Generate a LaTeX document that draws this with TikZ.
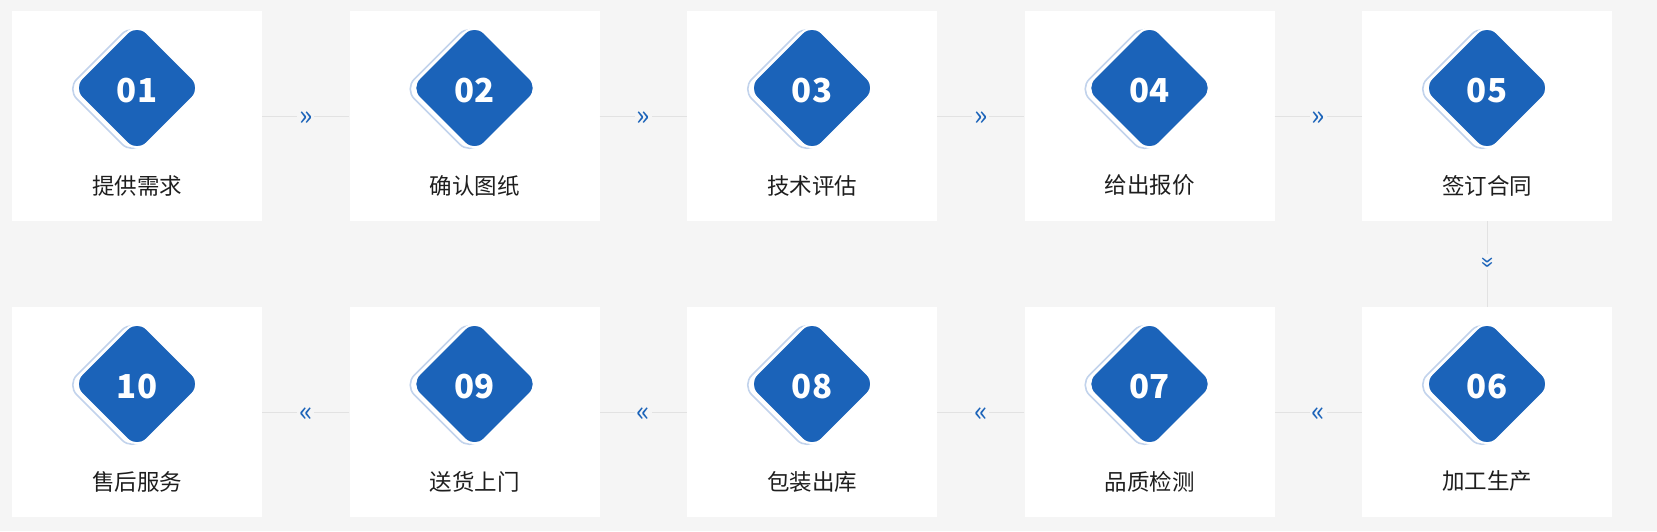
\documentclass[tikz,border=0pt]{standalone}
\usepackage{fontspec}
\setmainfont{Noto Sans CJK SC}
\definecolor{bg}{HTML}{F5F5F5}
\definecolor{mainblue}{HTML}{1B63B9}
\definecolor{lightblue}{HTML}{C2D3EC}
\definecolor{linegray}{HTML}{E2E2E2}
\definecolor{lbltext}{HTML}{1E1E1E}
\tikzset{
 card/.style={fill=white, minimum width=250pt, minimum height=210pt, inner sep=0pt},
 dia/.style={fill=mainblue, draw=white, line width=2pt, rounded corners=14pt, minimum size=92pt, rotate=45, inner sep=0pt},
 diaout/.style={draw=lightblue, line width=1.6pt, fill=white, rounded corners=14pt, minimum size=92pt, rotate=45, inner sep=0pt},
 num/.style={text=white, font=\bfseries\fontsize{33}{33}\selectfont, inner sep=0pt},
 lbl/.style={text=lbltext, font=\fontsize{22.5}{22.5}\selectfont, inner sep=0pt},
 conn/.style={draw=linegray, line width=1pt},
 chev/.style={fill=bg, text=mainblue, font=\fontsize{28}{28}\selectfont, inner sep=2pt},
}
\begin{document}
\begin{tikzpicture}[x=1pt,y=-1pt]
\fill[bg] (0,0) rectangle (1657,531);
\useasboundingbox (0,0) rectangle (1657,531);
\foreach \i/\x/\y/\n/\t in {
  1/137/116/01/提供需求, 2/474.5/116/02/确认图纸, 3/812/116/03/技术评估, 4/1149.5/116/04/给出报价, 5/1487/116/05/签订合同,
  6/1487/412/06/加工生产, 7/1149.5/412/07/品质检测, 8/812/412/08/包装出库, 9/474.5/412/09/送货上门, 10/137/412/10/售后服务}{
  \node[card] (c\i) at (\x,\y) {};
  \node[diaout] (o\i) at (\x-5,\y-27) {};
  \node[dia] (d\i) at (\x,\y-28) {};
  \node[num] (n\i) at (\x,\y-25.5) {\n};
  \node[lbl] (l\i) at (\x,\y+69.5) {\t};
}
\foreach \a/\b in {1/2,2/3,3/4,4/5}{
  \draw[conn] (c\a.east) -- (c\b.west) node[midway, chev, yshift=-3pt] (h\a) {»};
}
\foreach \a/\b in {6/7,7/8,8/9,9/10}{
  \draw[conn] (c\a.west) -- (c\b.east) node[midway, chev, yshift=-3pt] (h\a) {«};
}
\draw[conn] (c5.south) -- (c6.north) node[midway, chev, rotate=-90, xshift=-2pt, font=\fontsize{25}{25}\selectfont] (v5) {»};
\end{tikzpicture}
\end{document}
